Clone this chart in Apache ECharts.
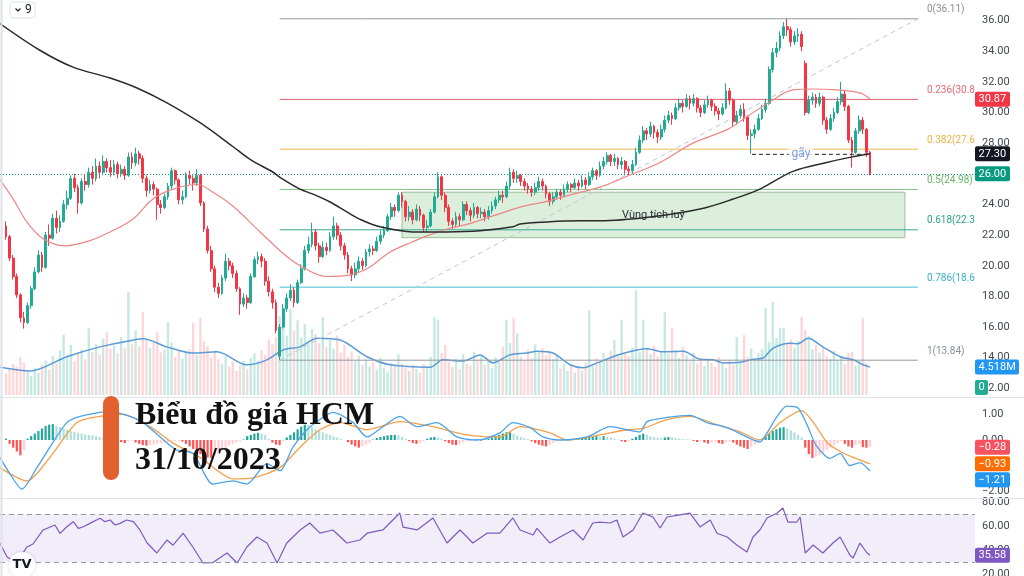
<!DOCTYPE html>
<html><head><meta charset="utf-8">
<script src="https://cdn.jsdelivr.net/npm/echarts@6/dist/echarts.min.js"></script>
<style>html,body{margin:0;padding:0;background:#fff}#c{width:1024px;height:576px}</style>
</head><body><div id="c"></div>
<script>
// ---------- DATA ----------
// candles: [open, close, low, high], one per session
const candles = [
[22.6,21.9,21.7,22.9],[21.9,20.5,20.3,22.0],[20.5,19.3,19.1,20.7],[19.3,18.1,17.9,19.5],[18.1,16.6,16.3,18.2],[16.6,16.3,15.9,17.0],[16.3,17.4,16.2,17.6],[17.4,18.5,17.2,18.7],[18.5,19.6,18.4,19.9],[19.6,20.7,19.5,21.0],
[20.7,19.9,19.6,20.9],[19.9,22.0,19.8,22.2],[22.0,21.8,21.3,22.7],[21.8,23.1,21.7,23.4],[23.1,22.5,22.1,23.6],[22.5,22.9,22.2,23.3],[22.9,24.0,22.8,24.3],[24.0,24.4,23.7,24.9],[24.4,25.7,24.3,25.9],[25.7,25.1,24.8,26.0],
[25.1,24.1,23.4,25.3],[24.1,25.5,24.0,25.7],[25.5,25.3,24.9,26.0],[25.3,26.1,25.1,26.4],[26.1,25.7,25.3,26.5],[25.7,26.5,25.5,27.0],[26.5,26.1,25.7,26.8],[26.1,26.8,25.9,27.2],[26.8,26.4,26.1,27.0],[26.4,26.1,25.8,26.9],
[26.1,26.6,25.9,26.9],[26.6,26.0,25.7,26.8],[26.0,26.3,25.8,26.6],[26.3,25.9,25.6,26.5],[25.9,27.1,25.8,27.4],[27.1,26.7,26.3,27.4],[26.7,27.3,26.5,27.7],[27.3,27.0,26.6,27.5],[27.0,25.7,25.4,27.2],[25.7,24.9,24.5,25.9],
[24.9,25.3,24.7,25.6],[25.3,25.0,24.6,25.5],[25.0,24.0,23.0,25.1],[24.0,23.8,23.4,24.3],[23.8,24.5,23.7,24.7],[24.5,25.2,24.3,25.4],[25.2,26.2,25.0,26.4],[26.2,25.6,25.3,26.3],[25.6,24.3,24.0,25.7],[24.3,24.5,24.0,24.9],
[24.5,25.9,24.4,26.1],[25.9,25.7,25.3,26.2],[25.7,25.4,24.9,25.9],[25.4,25.9,25.2,26.3],[25.9,24.1,23.9,26.0],[24.1,22.4,22.2,24.2],[22.4,21.0,20.8,22.6],[21.0,19.8,19.6,21.3],[19.8,18.6,18.3,20.0],[18.6,18.2,17.9,18.9],
[18.2,19.2,18.1,19.4],[19.2,20.3,19.0,20.8],[20.3,20.0,19.7,20.5],[20.0,19.5,19.2,20.2],[19.5,18.5,18.3,19.7],[18.5,17.5,16.8,18.6],[17.5,17.9,17.3,18.2],[17.9,17.6,17.2,18.1],[17.6,19.3,17.5,19.5],[19.3,20.4,19.2,20.6],
[20.4,20.6,20.1,20.9],[20.6,20.3,19.9,20.8],[20.3,19.0,18.7,20.5],[19.0,18.3,18.0,19.3],[18.3,17.6,17.2,18.5],[17.6,15.8,15.6,17.8],[14.1,16.0,13.84,16.2],[16.0,17.2,15.9,17.5],[17.2,17.9,17.0,18.2],[17.9,18.4,17.7,18.8],
[18.4,17.6,17.3,18.6],[17.6,18.9,17.5,19.1],[18.9,19.8,18.8,20.1],[19.8,21.0,19.7,21.3],[21.0,21.4,20.8,21.9],[21.4,22.2,21.2,22.8],[22.2,21.3,21.0,22.4],[21.3,20.6,20.2,21.5],[20.6,21.2,20.5,21.6],[21.2,21.0,20.7,21.5],
[21.0,21.9,20.9,22.2],[21.9,22.6,21.7,23.2],[22.6,22.0,21.7,22.8],[22.0,21.3,21.0,22.2],[21.3,20.7,20.4,21.5],[20.7,19.8,19.5,20.9],[19.8,19.4,19.0,20.0],[19.4,19.8,19.2,20.2],[19.8,20.3,19.6,20.6],[20.3,20.0,19.7,20.5],
[20.0,20.9,19.9,21.1],[20.9,21.1,20.6,21.4],[21.1,21.0,20.7,21.3],[21.0,21.6,20.9,21.9],[21.6,22.0,21.4,22.3],[22.0,22.3,21.8,22.6],[22.3,23.2,22.2,23.4],[23.2,23.8,23.0,24.1],[23.8,23.6,23.2,24.0],[23.6,24.6,23.5,24.8],
[24.6,24.2,23.8,24.8],[24.2,23.2,22.9,24.3],[23.2,23.5,22.9,23.9],[23.5,23.0,22.7,23.7],[23.0,23.7,22.9,24.0],[23.7,23.3,22.9,23.9],[23.3,22.5,22.2,23.4],[22.5,22.6,22.2,23.0],[22.6,23.5,22.5,23.7],[23.5,24.5,23.4,24.8],
[24.5,25.8,24.4,26.1],[25.8,24.6,24.3,25.9],[24.6,23.8,23.5,24.8],[23.8,22.9,22.6,24.0],[22.9,22.7,22.4,23.1],[22.7,23.2,22.5,23.5],[23.2,23.0,22.6,23.4],[23.0,24.0,22.9,24.2],[24.0,23.6,23.3,24.2],[23.6,23.3,22.9,23.8],
[23.3,23.8,23.1,24.1],[23.8,23.4,23.1,23.9],[23.4,23.5,23.1,23.8],[23.5,23.2,22.9,23.7],[23.2,23.6,23.0,23.9],[23.6,23.9,23.4,24.2],[23.9,24.3,23.7,24.5],[24.3,24.6,24.1,24.9],[24.6,24.5,24.1,24.9],[24.5,25.2,24.4,25.5],
[25.2,26.1,25.0,26.4],[26.1,25.7,25.4,26.3],[25.7,25.9,25.4,26.2],[25.9,25.5,25.2,26.0],[25.5,25.2,24.9,25.7],[25.2,25.0,24.7,25.4],[25.0,24.8,24.5,25.2],[24.8,25.1,24.6,25.4],[25.1,25.5,24.9,25.8],[25.5,25.2,24.9,25.7],
[25.2,24.7,24.4,25.3],[24.7,24.2,23.9,24.8],[24.2,24.5,24.0,24.8],[24.5,24.8,24.3,25.0],[24.8,24.6,24.3,25.0],[24.6,25.0,24.5,25.3],[25.0,25.3,24.8,25.5],[25.3,25.1,24.8,25.4],[25.1,25.4,25.0,25.7],[25.4,25.2,24.9,25.6],
[25.2,25.6,25.1,25.9],[25.6,25.3,25.0,25.8],[25.3,25.8,25.2,26.1],[25.8,26.2,25.6,26.4],[26.2,25.9,25.6,26.3],[25.9,26.5,25.8,26.8],[26.5,26.8,26.3,27.1],[26.8,27.2,26.6,27.4],[27.2,26.8,26.5,27.3],[26.8,27.0,26.5,27.3],
[27.0,26.6,26.3,27.1],[26.6,26.8,26.3,27.1],[26.8,26.3,26.0,26.9],[26.3,26.2,25.9,26.5],[26.2,26.6,26.0,26.9],[26.6,27.4,26.5,27.7],[27.4,28.2,27.3,28.5],[28.2,28.8,28.0,29.1],[28.8,28.6,28.2,29.0],[28.6,29.1,28.4,29.4],
[29.1,28.7,28.3,29.2],[28.7,28.4,28.0,28.9],[28.4,28.9,28.2,29.2],[28.9,29.5,28.7,29.8],[29.5,29.8,29.3,30.1],[29.8,29.6,29.2,30.0],[29.6,30.3,29.5,30.6],[30.3,30.6,30.1,30.9],[30.6,30.4,30.0,30.8],[30.4,30.9,30.3,31.2],
[30.9,30.6,30.2,31.1],[30.6,30.9,30.4,31.2],[30.9,30.3,30.0,31.0],[30.3,30.0,29.7,30.5],[30.0,30.5,29.9,30.8],[30.5,30.8,30.3,31.1],[30.8,30.4,30.1,30.9],[30.4,30.1,29.8,30.6],[30.1,29.9,29.5,30.3],[29.9,30.3,29.8,30.6],
[30.3,31.4,30.2,31.9],[31.4,30.8,30.5,31.6],[30.8,29.4,29.1,30.9],[29.4,29.8,29.2,30.1],[29.8,30.2,29.6,30.5],[30.2,29.7,29.4,30.6],[29.7,28.5,28.2,29.8],[28.5,28.6,27.3,28.9],[28.6,28.9,28.3,29.2],[28.9,29.6,28.8,29.9],
[29.6,30.2,29.5,30.5],[30.2,30.6,30.0,30.9],[30.6,32.8,30.5,33.0],[32.8,33.9,32.6,34.2],[33.9,34.2,33.6,34.6],[34.2,35.0,34.0,35.3],[35.0,35.6,34.8,35.9],[35.6,35.4,35.0,36.11],[35.4,34.6,34.3,35.6],[34.6,35.0,34.4,35.3],
[35.0,35.1,34.6,35.5],[35.1,34.3,34.0,35.3],[33.2,30.0,29.8,33.4],[30.0,30.8,29.9,31.1],[30.8,31.0,30.5,31.3],[31.0,30.6,30.3,31.2],[30.6,31.0,30.4,31.3],[31.0,29.5,29.2,31.1],[29.5,28.9,28.6,29.7],[28.9,29.6,28.8,29.9],
[29.6,30.0,29.4,30.3],[30.0,30.7,29.9,31.0],[30.7,31.2,30.5,32.0],[31.2,30.4,30.1,31.4],[30.4,28.2,28.0,30.5],[28.2,27.4,26.4,28.4],[27.4,28.8,27.3,29.0],[28.8,29.5,28.6,29.8],[29.5,28.9,28.6,29.7],[28.9,27.4,27.1,29.0],
[27.4,26.0,25.9,27.5]
];
// volume in millions, one per session
const volumes = [
3.5,4.2,5.0,4.6,6.1,5.2,3.8,3.1,4.4,3.6,
4.9,5.6,4.1,6.3,5.0,7.2,9.8,6.4,8.1,5.5,
6.9,7.4,5.8,10.9,7.0,8.3,6.6,9.1,10.2,7.5,
8.0,6.8,9.4,7.7,16.7,8.2,10.5,7.9,13.4,9.0,
7.6,8.8,10.2,6.9,7.3,11.8,8.5,6.2,7.1,5.9,
6.8,7.4,11.7,6.5,12.5,8.7,7.9,6.1,7.2,5.8,
5.0,6.3,4.6,5.4,3.9,4.8,5.5,4.2,6.0,6.8,
5.6,7.3,6.5,9.0,8.2,9.4,12.8,11.2,9.6,13.9,
10.4,12.1,9.3,11.5,8.8,10.7,9.9,8.4,12.6,7.8,
8.9,7.5,9.6,6.9,8.1,6.2,7.0,5.5,6.4,4.9,
5.8,4.6,5.3,4.1,6.0,4.4,3.8,5.2,4.7,6.6,
5.1,4.3,3.9,4.8,4.2,3.6,5.0,4.5,6.2,12.6,
12.2,6.8,8.1,5.4,4.6,5.9,4.2,6.6,5.1,4.8,
7.0,5.6,6.3,4.9,5.7,4.4,6.1,5.3,7.8,12.2,
8.4,12.5,10.0,6.2,5.5,7.3,6.0,8.2,6.9,7.6,
6.4,7.1,5.8,6.6,4.3,5.0,3.9,4.7,3.6,4.4,
4.0,5.2,13.8,4.8,6.0,5.4,6.8,5.9,7.2,8.9,
6.5,12.2,7.0,6.3,7.7,17.0,6.9,12.2,7.4,6.6,
8.0,6.2,7.1,13.4,6.7,10.9,7.3,6.0,7.8,6.4,
5.5,6.9,5.1,6.0,4.7,5.8,5.2,4.6,6.1,5.0,
4.4,5.7,4.9,9.4,5.3,9.7,6.2,7.5,5.6,6.8,
7.4,14.1,8.6,15.1,9.2,10.9,10.9,8.3,9.0,7.7,
8.8,12.6,10.5,9.6,7.4,8.1,6.9,7.8,6.3,5.9,
7.2,5.6,6.4,5.0,6.8,7.0,4.8,5.5,12.5,5.2,
0
];
// moving averages traced as [session index, value]
const ma50Pts = [[-1.7,25.6],[2,24.35],[5.8,22.86],[10.3,21.76],[16.4,21.3],[22.5,21.57],[28.9,22.2],[35.3,23.05],[40.8,24.35],[46.4,25.0],[53.1,25.3],[57.5,24.8],[63,23.9],[70.6,22.2],[77,20.8],[81.7,20.0],[89.2,19.3],[94.7,19.37],[100.3,19.8],[106.7,20.9],[113,21.57],[116.9,21.95],[122.5,22.4],[128,22.7],[135.3,23.25],[142.8,23.83],[150.3,24.2],[157.5,24.67],[165,25.13],[172.5,25.84],[181.7,26.74],[190.8,28.0],[200.3,28.88],[205.8,29.72],[213,30.82],[218.6,31.47],[224.2,31.53],[230.8,31.47],[237.2,31.28],[240,30.87]];
const ma200Pts = [[-1.7,35.8],[9.4,34.06],[18.6,32.96],[28.9,32.25],[36.4,31.6],[44.7,30.63],[53.9,29.33],[63,27.78],[67.8,26.94],[74.2,26.1],[76.1,25.77],[81.7,25.0],[85.3,24.67],[90,24.16],[94.7,23.51],[98.6,23.0],[103.9,22.54],[113,22.21],[122.5,22.21],[131.7,22.28],[140.8,22.54],[142.8,22.73],[150.3,22.86],[159.4,22.93],[165,22.93],[178.9,23.18],[192.8,23.7],[202,24.35],[209.4,25.0],[218.6,26.16],[228,26.74],[234.4,27.07],[240,27.30]];
const volMaPts = [[-1.7,4.5],[6.7,3.9],[16.9,6.2],[26.1,7.8],[35.3,8.9],[38.1,9.1],[44.7,7.8],[51.9,6.8],[58.6,7.0],[66.9,4.9],[72.5,5.7],[76.9,7.3],[81.7,7.8],[86.4,9.2],[92.8,8.9],[100.3,6.2],[106.7,4.9],[117.8,4.5],[121.4,5.7],[127,5.5],[131.7,6.5],[135.3,5.2],[140,6.5],[144.7,6.8],[147.5,7.1],[151.9,6.8],[156.7,4.9],[160.3,4.4],[164.2,5.2],[170.6,6.6],[175.3,7.3],[178.1,7.5],[182.5,7.0],[188.1,7.1],[192.8,5.8],[196.4,5.7],[199.2,5.2],[203.9,5.3],[207.5,5.8],[210.3,6.0],[213.1,7.6],[217.8,8.4],[220,8.3],[222.8,9.2],[226.9,7.8],[231.7,6.2],[235.3,5.7],[238.1,4.9],[240,4.518]];
// MACD
const macdPts = [[-1.7,-0.68],[1.1,-1.32],[4.4,-1.92],[8.6,-1.08],[12.2,-0.28],[16.9,0.68],[20.6,0.92],[26.1,1.08],[28.9,1.12],[34.4,0.92],[38.1,0.68],[42.8,0.12],[47.5,-0.4],[51.9,-0.52],[57.5,-1.72],[63.1,-1.6],[66.9,-1.72],[72.5,-0.92],[76.1,-1.2],[79.7,-0.28],[83.6,0.4],[87.2,0.8],[90.8,1.08],[96.4,0.68],[100.3,0.12],[104.7,0.52],[109.4,0.92],[114.2,0.52],[119.7,0.68],[125.3,0.12],[130.8,0.0],[137.2,0.28],[140.8,0.68],[145.6,0.48],[149.2,0.12],[153.9,0.0],[161.4,0.12],[167.8,0.52],[172.5,0.4],[176.1,0.32],[178.1,0.72],[183.6,0.88],[190,0.96],[194.7,0.68],[200.3,0.48],[205.8,0.12],[209.4,-0.08],[211.4,0.28],[214.2,0.92],[216.9,1.32],[220,1.25],[222.5,0.6],[225,-0.2],[228.9,-0.72],[231.7,-0.52],[234.4,-1.0],[237.2,-0.88],[240,-1.21]];
const signalPts = [[-1.7,-1.08],[5.8,-1.6],[12.2,-0.68],[19.7,0.68],[26.1,0.92],[32.5,1.0],[40,0.52],[46.4,-0.12],[53.9,-0.68],[63.1,-1.52],[68.6,-1.48],[76.1,-1.08],[81.7,-0.28],[87.2,0.4],[92.8,0.68],[100.3,0.4],[109.4,0.72],[118.6,0.52],[128,0.2],[137.2,0.12],[142.8,0.52],[151.1,0.28],[155.8,0.0],[165,0.2],[172.5,0.4],[176.9,0.45],[183.6,0.8],[190,0.92],[197.5,0.6],[203.9,0.32],[209.4,0.0],[215,0.68],[221,1.15],[224.2,0.7],[228.1,-0.1],[231.7,-0.45],[235.3,-0.68],[240,-0.93]];
const macdHist = [
0.05,-0.15,-0.3,-0.45,-0.6,-0.4,0.05,0.15,0.25,0.35,
0.45,0.55,0.6,0.62,0.55,0.5,0.45,0.4,0.35,0.32,
0.28,0.25,0.22,0.2,0.18,0.15,0.12,0.1,0.12,0.1,
0.06,0.03,-0.08,-0.12,-0.06,-0.03,-0.1,-0.15,-0.2,-0.22,
-0.2,-0.18,-0.15,-0.12,-0.1,-0.08,-0.06,-0.05,-0.04,-0.06,
-0.15,-0.25,-0.35,-0.45,-0.55,-0.62,-0.68,-0.7,-0.6,-0.5,
-0.4,-0.3,-0.22,-0.15,-0.1,-0.05,0.02,0.15,0.2,0.25,
0.28,0.25,0.2,0.05,-0.1,-0.18,-0.2,-0.05,0.1,0.2,
0.3,0.42,0.52,0.6,0.58,0.5,0.42,0.36,0.3,0.25,
0.2,0.15,0.1,0.05,0.0,-0.08,-0.18,-0.25,-0.3,-0.25,
-0.18,-0.1,0.02,0.08,0.12,0.15,0.18,0.2,0.2,0.18,
0.12,0.05,-0.05,-0.12,-0.15,-0.12,-0.05,0.05,0.1,0.12,
0.1,0.05,-0.05,-0.12,-0.18,-0.2,-0.15,-0.1,-0.05,-0.03,
-0.02,0.02,-0.03,0.03,0.06,0.1,0.15,0.2,0.25,0.3,
0.3,0.25,0.18,0.12,0.08,0.04,-0.05,-0.12,-0.18,-0.22,
-0.25,-0.2,-0.12,-0.05,-0.02,0.01,0.02,-0.01,0.02,0.04,
0.06,0.1,0.12,0.14,0.15,0.13,0.15,0.12,0.1,0.05,
0.02,-0.05,-0.08,-0.04,0.05,0.12,0.2,0.25,0.2,0.15,
0.12,0.1,0.08,0.1,0.12,0.1,0.08,0.06,0.04,0.03,
0.02,-0.04,-0.08,-0.05,-0.1,-0.14,-0.1,-0.06,-0.12,-0.15,
-0.1,-0.06,-0.1,-0.18,-0.25,-0.3,-0.35,-0.28,-0.18,-0.08,
0.05,0.15,0.25,0.35,0.42,0.48,0.5,0.45,0.38,0.3,
0.2,0.1,-0.3,-0.55,-0.7,-0.65,-0.6,-0.5,-0.4,-0.3,
-0.2,-0.12,-0.05,-0.15,-0.25,-0.3,-0.2,-0.15,-0.28,-0.3,
-0.28
];
// RSI traced as [session index, value]
const rsiPts = [[-1.7,45.8],[0.3,34.2],[3,29.5],[5.8,42.5],[7.5,45],[10.3,56.7],[13.6,60.8],[15,53.9],[16.9,59.4],[18.7,63.6],[20.1,58],[21.5,59.4],[23.3,62.2],[26.1,66.4],[27.5,63.6],[28.9,65],[30.3,60.8],[31.7,62.2],[33.5,65],[35.4,63.6],[37.2,56.7],[39.2,45.8],[41.9,37.5],[44.7,48.3],[46.4,44],[49.2,54],[51.9,42.5],[54.7,29.2],[57.5,29.5],[61.4,37.5],[64.2,29.2],[66.9,42.5],[69.7,50.8],[72.5,45.8],[75.3,29.2],[78,45.8],[81.7,56.7],[84.4,62.5],[87.2,54],[90.8,56.7],[94.7,45.8],[98.3,48.3],[100.3,54],[104.7,56.7],[109.4,70.8],[110.3,59],[114.2,56.7],[118.6,66.7],[122.5,45.8],[126.1,56.7],[129.7,45.8],[133.6,54],[137.2,54],[140.8,66.7],[142.8,56.7],[146.4,52.5],[147.5,58],[151.1,45.8],[153.9,50.8],[157.5,56.7],[160.3,48.3],[163,62.5],[165,63.3],[167.8,62.5],[169.7,65],[171.4,50.8],[174.2,56.7],[176.9,70.8],[179.7,67.5],[181.7,58.3],[183.6,67.5],[187.2,69.2],[190,70.8],[192.8,59.2],[195.6,65],[197.5,54],[200.3,50.8],[203,44.2],[205.8,38.3],[207.5,50.8],[209.4,56.7],[211.4,66.7],[214.2,70.8],[215.8,75],[217.2,63.3],[219.7,63.3],[220.6,67.5],[222,37.5],[224.2,44.2],[226.9,37.5],[229.7,45.8],[231.7,50.8],[234.4,35.8],[235.3,33.3],[237.2,45.8],[239.2,37.5],[240,35.58]];
// drawings
const fibLow = [76, 13.84];
const fibHigh = [253.3, 36.11];
const fibRatios = [0, 0.236, 0.382, 0.5, 0.618, 0.786, 1];
const zone = {from:110, to:249.7, top:24.8, bottom:21.83, text:'Vùng tích luỹ'};
const brokenLine = {from:207.2, to:239.4, price:27.27, labelAt:220.8, text:'gãy'};
const rsiBand = [30, 70];
const titleLines = ['Biểu đồ giá HCM', '31/10/2023'];

// ---------- STYLE ----------
const UP = '#22ab94', DOWN = '#f23645';
const fibColors = ['#9598a1','#e35f6c','#f0b94b','#86c78a','#3aa890','#45bcd3','#9598a1'];
const fibText = ['#8a8d96','#e06a76','#eeb143','#63b866','#2f9f86','#3ab1cc','#8a8d96'];
const XMIN = -6/3.6, XMAX = XMIN + 975/3.6;
const lab = {color:'#434651', fontSize:11, fontFamily:'Roboto', margin:7};
const fmt = v => (v < 0 ? '\u2212' : '') + Math.abs(v).toFixed(2);

const fibSeries = fibRatios.map((r, k) => {
  const lv = fibHigh[1] - r * (fibHigh[1] - fibLow[1]);
  return {type:'line', xAxisIndex:0, yAxisIndex:0, silent:true, symbol:'none', z:3,
    lineStyle:{color:fibColors[k], width:1}, data:[[fibLow[0], lv],[fibHigh[0], lv]]};
});

const option = {
  animation:false,
  backgroundColor:'#ffffff',
  grid:[
    {left:0,right:49,top:0,height:388.4,outerBoundsMode:'none'},
    {left:0,right:49,top:388.8,height:128,outerBoundsMode:'none'},
    {left:0,right:49,top:478,height:120,outerBoundsMode:'none'},
    {left:0,right:49,top:0,height:395,outerBoundsMode:'none'}
  ],
  xAxis:[0,1,2,3].map(g => ({type:'value', gridIndex:g, min:XMIN, max:XMAX, show:false})),
  yAxis:[
    {type:'value', gridIndex:0, position:'right', min:12, max:37.337, interval:2,
     axisLine:{show:false}, axisTick:{show:false}, splitLine:{show:false},
     axisLabel:Object.assign({showMaxLabel:false, formatter:v => v.toFixed(2)}, lab)},
    {type:'value', gridIndex:1, position:'right', min:-3, max:2, interval:1,
     axisLine:{show:false}, axisTick:{show:false}, splitLine:{show:false},
     axisLabel:Object.assign({formatter:v => (v >= -2 && v <= 1) ? fmt(v) : ''}, lab)},
    {type:'value', gridIndex:2, position:'right', min:0, max:100, interval:20,
     axisLine:{show:false}, axisTick:{show:false}, splitLine:{show:false},
     axisLabel:Object.assign({formatter:v => (v > 0 && v < 100) ? v.toFixed(2) : ''}, lab)},
    {type:'value', gridIndex:3, min:0, max:64, show:false}
  ],
  series:[
    {type:'bar', xAxisIndex:3, yAxisIndex:3, z:1, silent:true, barWidth:2.4,
     data:volumes.map((v,i) => ({value:[i,v], itemStyle:{color: candles[i][1] >= candles[i][0] ? 'rgba(34,171,148,0.26)' : 'rgba(242,54,69,0.2)'}}))},
    {type:'line', xAxisIndex:3, yAxisIndex:3, z:2, silent:true, symbol:'none', smooth:0.3,
     lineStyle:{color:'#5b9bd5', width:1.5}, data:volMaPts},
    ...fibSeries,
    {type:'line', xAxisIndex:0, yAxisIndex:0, silent:true, symbol:'none', z:3,
     lineStyle:{color:'#c3c6ce', width:1, type:[5,4]}, data:[fibLow, fibHigh]},
    {type:'candlestick', xAxisIndex:0, yAxisIndex:0, z:5, silent:true, barWidth:2.4,
     data:candles.map((c,i) => [i, c[0], c[1], c[2], c[3]]),
     encode:{x:0, y:[1,2,3,4]},
     itemStyle:{color:UP, color0:DOWN, borderColor:UP, borderColor0:DOWN, borderWidth:1},
     markLine:{silent:true, symbol:['none','none'], label:{show:false},
       lineStyle:{color:'#089981', type:[1,2], width:1},
       data:[{yAxis:candles[candles.length-1][1]}]},
     markArea:{silent:true,
       itemStyle:{color:'rgba(76,175,80,0.2)', borderColor:'rgba(100,150,100,0.6)', borderWidth:1},
       label:{show:true, position:'inside', color:'#2a2e39', fontSize:11, fontFamily:'Roboto'},
       data:[[{name:zone.text, coord:[zone.from, zone.top]}, {coord:[zone.to, zone.bottom]}]]}},
    {type:'line', xAxisIndex:0, yAxisIndex:0, z:6, silent:true, symbol:'none', smooth:0.35,
     lineStyle:{color:'#ee8585', width:1.2}, data:ma50Pts},
    {type:'line', xAxisIndex:0, yAxisIndex:0, z:6, silent:true, symbol:'none', smooth:0.35,
     lineStyle:{color:'#2a2a2a', width:1.5}, data:ma200Pts},
    {type:'line', xAxisIndex:0, yAxisIndex:0, z:7, silent:true, symbol:'none',
     lineStyle:{color:'#222', width:1, type:[4,3]}, data:[[brokenLine.from, brokenLine.price],[brokenLine.to, brokenLine.price]]},
    {type:'scatter', xAxisIndex:0, yAxisIndex:0, z:8, silent:true, symbolSize:1,
     itemStyle:{color:'rgba(0,0,0,0)'},
     label:{show:true, position:'inside', formatter:brokenLine.text, color:'#5c84dc', fontSize:12, fontFamily:'Roboto', backgroundColor:'#ffffff', padding:[0,3]},
     data:[[brokenLine.labelAt, brokenLine.price]]},
    {type:'bar', xAxisIndex:1, yAxisIndex:1, z:2, silent:true, barWidth:2.2,
     data:macdHist.map((v,i) => {
       const prev = i > 0 ? macdHist[i-1] : v;
       let c;
       if (v >= 0) c = v >= prev ? '#26a69a' : '#b2dfdb';
       else c = v <= prev ? '#ff5252' : '#ffcdd2';
       return {value:[i, v], itemStyle:{color:c}};
     })},
    {type:'line', xAxisIndex:1, yAxisIndex:1, z:4, silent:true, symbol:'none', smooth:0.25,
     lineStyle:{color:'#4aa3ea', width:1.3}, data:macdPts},
    {type:'line', xAxisIndex:1, yAxisIndex:1, z:3, silent:true, symbol:'none', smooth:0.25,
     lineStyle:{color:'#f5a04a', width:1.3}, data:signalPts},
    {type:'line', xAxisIndex:2, yAxisIndex:2, z:4, silent:true, symbol:'none',
     lineStyle:{color:'#7e57c2', width:1.2}, data:rsiPts,
     markArea:{silent:true, itemStyle:{color:'rgba(126,87,194,0.1)'}, data:[[{yAxis:rsiBand[0]},{yAxis:rsiBand[1]}]]},
     markLine:{silent:true, symbol:['none','none'], label:{show:false},
       lineStyle:{color:'#9598a1', type:[5,4], width:1},
       data:[{yAxis:rsiBand[0]},{yAxis:rsiBand[1]}]}}
  ]
};

const chart = echarts.init(document.getElementById('c'), null, {width:1024, height:576});
chart.setOption(option);

// ---------- overlays positioned through the chart's scales ----------
const px = i => chart.convertToPixel({xAxisIndex:0}, i);
const py = (k, v) => chart.convertToPixel({yAxisIndex:k}, v);
const ctx = document.createElement('canvas').getContext('2d');
ctx.font = '11px Roboto';
const RIGHT = 975;
const g = [];
function badge(y, text, bg) {
  const w = Math.round(ctx.measureText(text).width + 7);
  g.push({type:'rect', z:50, silent:true, shape:{x:RIGHT, y:y-7.5, width:w, height:15, r:2}, style:{fill:bg}});
  g.push({type:'text', z:51, silent:true, style:{text, x:RIGHT+3.5, y:y, fill:'#fff', font:'11px Roboto', verticalAlign:'middle'}});
}
// fib labels (cut off where the price scale starts)
fibRatios.forEach((r,k) => {
  const lv = fibHigh[1] - r * (fibHigh[1] - fibLow[1]);
  const x0 = px(fibHigh[0]) + 9;
  g.push({type:'text', z:20, silent:true, style:{text: r + '(' + lv.toFixed(2) + ')', x:x0, y:py(0, lv) - 9,
    fill:fibText[k], font:'10px Roboto', verticalAlign:'middle', width:RIGHT + 4 - x0, overflow:'truncate', ellipsis:''}});
});
// price pane badges
const ma50Last = ma50Pts[ma50Pts.length-1][1], ma200Last = ma200Pts[ma200Pts.length-1][1];
const lastClose = candles[candles.length-1][1];
badge(py(0, ma50Last), ma50Last.toFixed(2), '#f23645');
badge(py(0, ma200Last), ma200Last.toFixed(2), '#131722');
badge(py(0, lastClose), lastClose.toFixed(2), '#089981');
const volMaLast = volMaPts[volMaPts.length-1][1];
badge(py(3, volMaLast), volMaLast.toFixed(3) + 'M', '#2196f3');
const volLast = volumes[volumes.length-1];
badge(Math.min(py(3, volLast), 395 - 7.5), String(volLast), '#22ab94');
// MACD badges, stacked so they do not overlap
const mb = [
  {v:macdHist[macdHist.length-1], c:'#f7525f'},
  {v:signalPts[signalPts.length-1][1], c:'#ff6d00'},
  {v:macdPts[macdPts.length-1][1], c:'#2196f3'}
].map(o => Object.assign(o, {y:py(1, o.v)})).sort((a,b) => a.y - b.y);
for (let k = 1; k < mb.length; k++) if (mb[k].y < mb[k-1].y + 16) mb[k].y = mb[k-1].y + 16;
mb.forEach(o => badge(o.y, fmt(o.v), o.c));
const rsiLast = rsiPts[rsiPts.length-1][1];
badge(py(2, rsiLast), rsiLast.toFixed(2), '#7e57c2');

// pane separators and frame
g.push({type:'line', z:40, silent:true, shape:{x1:0, y1:397.5, x2:1024, y2:397.5}, style:{stroke:'#e0e3eb', lineWidth:1}});
g.push({type:'line', z:40, silent:true, shape:{x1:0, y1:498.5, x2:1024, y2:498.5}, style:{stroke:'#e0e3eb', lineWidth:1}});
g.push({type:'line', z:40, silent:true, shape:{x1:1.5, y1:0, x2:1.5, y2:576}, style:{stroke:'#dfe2ea', lineWidth:2}});
// top-left button
g.push({type:'rect', z:40, silent:true, shape:{x:10, y:2, width:25, height:16, r:3}, style:{fill:'#fff', stroke:'#e0e3eb', lineWidth:1}});
g.push({type:'polyline', z:41, silent:true, shape:{points:[[15.5,8.5],[18,11],[20.5,8.5]]}, style:{stroke:'#131722', lineWidth:1.2, fill:null}});
g.push({type:'text', z:41, silent:true, style:{text:'9', x:25, y:10, fill:'#131722', font:'12px Roboto', verticalAlign:'middle'}});
// title block
g.push({type:'rect', z:60, silent:true, shape:{x:103, y:396, width:16, height:84, r:8}, style:{fill:'#e2602d'}});
g.push({type:'text', z:61, silent:true, style:{text:titleLines[0], x:135, y:415.8, fill:'#111', font:'bold 32px "Liberation Serif"', verticalAlign:'middle'}});
g.push({type:'text', z:61, silent:true, style:{text:titleLines[1], x:135, y:460.8, fill:'#111', font:'bold 32px "Liberation Serif"', verticalAlign:'middle'}});
// logo
g.push({type:'circle', z:60, silent:true, shape:{cx:22, cy:565, r:13}, style:{fill:'#fff', shadowBlur:4, shadowColor:'rgba(0,0,0,0.15)'}});
g.push({type:'text', z:61, silent:true, style:{text:'TV', x:22, y:565, fill:'#131722', font:'bold 13px "DejaVu Sans"', align:'center', verticalAlign:'middle'}});

chart.setOption({graphic:g});
</script>
</body></html>
